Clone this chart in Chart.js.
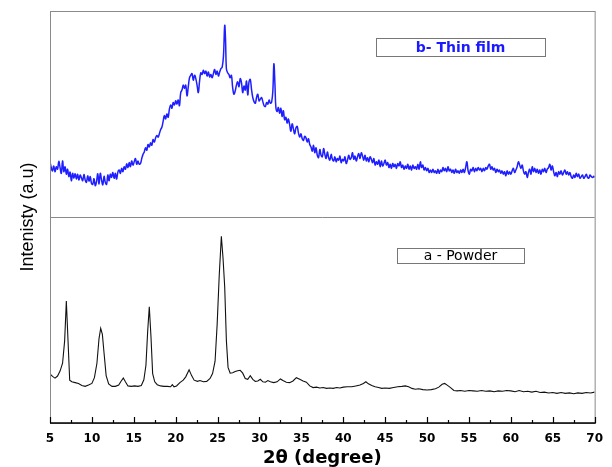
<!DOCTYPE html>
<html>
<head>
<meta charset="utf-8">
<script src="https://cdn.jsdelivr.net/npm/chart.js@4"></script>
<style>
  html, body { margin: 0; padding: 0; background: #fff; }
  canvas { display: block; }
</style>
</head>
<body>
<canvas id="xrdChart" width="612" height="467"></canvas>
<script>
// XRD patterns: thin film (offset up) and powder as [2theta, intensity]
const xTicks = [5, 10, 15, 20, 25, 30, 35, 40, 45, 50, 55, 60, 65, 70];
const dividerLevel = 50;
const seriesLabels = ['b- Thin film', 'a - Powder'];

const filmScan = [
  [5.0,63.4],[5.15,62.0],[5.3,61.2],[5.45,62.4],[5.6,61.0],[5.75,62.2],[5.9,61.6],[6.05,63.5],[6.2,62.0],[6.35,60.6],
  [6.5,63.6],[6.65,61.0],[6.8,62.2],[6.95,60.4],[7.1,61.6],[7.25,59.8],[7.4,60.9],[7.55,58.8],[7.7,60.6],[7.85,59.4],
  [8.0,60.5],[8.15,59.2],[8.3,60.4],[8.45,59.0],[8.6,60.2],[8.75,59.5],[8.9,58.8],[9.05,60.3],[9.2,59.0],[9.35,58.4],
  [9.5,60.0],[9.65,58.7],[9.8,59.8],[9.95,58.2],[10.1,57.9],[10.25,59.3],[10.4,57.6],[10.55,58.6],[10.7,60.5],[10.85,58.0],
  [11.0,60.6],[11.15,59.0],[11.3,57.8],[11.45,59.9],[11.6,58.4],[11.75,57.9],[11.9,60.2],[12.05,58.8],[12.2,60.4],[12.35,59.6],
  [12.5,60.8],[12.65,59.4],[12.8,60.6],[12.95,59.2],[13.1,60.9],[13.25,61.4],[13.4,60.6],[13.55,61.8],[13.7,61.0],[13.85,62.2],
  [14.0,61.6],[14.15,62.9],[14.3,62.0],[14.45,63.2],[14.6,62.2],[14.75,63.6],[14.9,62.6],[15.05,63.4],[15.2,64.2],[15.35,62.8],
  [15.5,63.6],[15.65,62.8],[15.8,63.0],[15.95,64.2],[16.1,65.2],[16.25,65.8],[16.4,66.8],[16.55,66.2],[16.7,67.6],[16.85,67.0],
  [17.0,68.0],[17.15,67.4],[17.3,68.8],[17.45,68.2],[17.6,69.2],[17.75,69.8],[17.9,69.4],[18.05,70.2],[18.2,71.2],[18.35,71.8],
  [18.5,73.2],[18.65,74.6],[18.8,73.8],[18.95,75.0],[19.1,74.2],[19.25,76.2],[19.4,77.2],[19.55,76.4],[19.7,77.8],[19.85,77.2],
  [20.0,78.2],[20.15,77.4],[20.3,78.4],[20.45,77.0],[20.6,80.2],[20.75,80.8],[20.9,82.0],[21.05,81.2],[21.2,82.0],[21.35,79.4],
  [21.5,81.6],[21.65,83.8],[21.8,84.4],[21.95,84.8],[22.1,83.2],[22.25,84.4],[22.4,83.6],[22.55,82.0],[22.7,80.2],[22.85,83.0],
  [23.0,85.0],[23.15,84.6],[23.3,85.6],[23.45,84.8],[23.6,85.4],[23.75,84.2],[23.9,85.2],[24.05,84.0],[24.2,84.6],[24.35,83.8],
  [24.5,84.8],[24.65,85.8],[24.8,84.6],[24.95,85.4],[25.1,84.2],[25.25,85.2],[25.4,86.0],[25.55,86.4],[25.7,89.0],[25.85,96.5],
  [25.95,93.0],[26.05,86.0],[26.2,85.0],[26.35,84.6],[26.5,83.8],[26.65,84.4],[26.8,81.4],[26.95,79.8],[27.1,80.6],[27.25,82.0],
  [27.4,82.8],[27.55,81.6],[27.7,83.6],[27.85,82.6],[28.0,80.2],[28.15,81.8],[28.3,80.8],[28.45,83.0],[28.6,79.6],[28.75,82.8],
  [28.9,83.4],[29.05,81.0],[29.2,79.0],[29.35,78.0],[29.5,77.6],[29.65,79.0],[29.8,79.8],[29.95,78.2],[30.1,78.6],[30.25,79.0],
  [30.4,78.0],[30.55,77.0],[30.7,76.8],[30.85,77.8],[31.0,77.4],[31.15,78.4],[31.3,77.6],[31.45,77.9],[31.6,80.8],[31.72,87.2],
  [31.85,82.0],[31.95,76.8],[32.1,75.6],[32.25,76.6],[32.4,75.2],[32.55,76.4],[32.7,74.4],[32.85,75.8],[33.0,73.6],[33.15,74.2],
  [33.3,72.8],[33.45,73.8],[33.6,72.4],[33.75,70.8],[33.9,72.6],[34.05,71.4],[34.2,70.2],[34.35,71.6],[34.5,72.0],[34.65,70.4],
  [34.8,69.4],[34.95,70.2],[35.1,69.0],[35.25,68.6],[35.4,69.6],[35.55,69.2],[35.7,68.2],[35.85,69.0],[36.0,67.6],[36.15,67.0],
  [36.3,66.0],[36.45,67.4],[36.6,65.6],[36.75,66.8],[36.9,65.0],[37.05,64.4],[37.2,66.4],[37.35,65.0],[37.5,64.6],[37.65,66.6],
  [37.8,65.2],[37.95,64.2],[38.1,65.8],[38.25,64.4],[38.4,63.8],[38.55,65.2],[38.7,64.0],[38.85,63.6],[39.0,64.6],[39.15,63.4],
  [39.3,64.2],[39.45,63.8],[39.6,64.8],[39.75,63.2],[39.9,64.0],[40.05,63.6],[40.2,64.6],[40.35,63.0],[40.5,63.8],[40.65,65.0],
  [40.8,64.0],[40.95,64.4],[41.1,65.6],[41.25,64.0],[41.4,64.8],[41.55,63.6],[41.7,64.6],[41.85,65.4],[42.0,64.2],[42.15,65.6],
  [42.3,64.8],[42.45,63.8],[42.6,65.0],[42.75,63.6],[42.9,64.4],[43.05,63.4],[43.2,64.6],[43.35,64.0],[43.5,63.2],[43.65,64.2],
  [43.8,62.6],[43.95,63.4],[44.1,62.8],[44.25,63.8],[44.4,62.2],[44.55,63.6],[44.7,62.4],[44.85,63.0],[45.0,63.8],[45.15,62.6],
  [45.3,63.2],[45.45,62.0],[45.6,62.8],[45.75,61.8],[45.9,63.0],[46.05,62.2],[46.2,62.8],[46.35,61.8],[46.5,63.0],[46.65,62.4],
  [46.8,63.4],[46.95,62.0],[47.1,62.6],[47.25,61.6],[47.4,62.4],[47.55,61.8],[47.7,62.8],[47.85,61.6],[48.0,62.4],[48.15,61.4],
  [48.3,62.6],[48.45,61.8],[48.6,62.2],[48.75,61.6],[48.9,62.8],[49.05,61.6],[49.2,63.4],[49.35,62.0],[49.5,62.6],[49.65,61.4],
  [49.8,62.0],[49.95,61.2],[50.1,61.8],[50.25,60.8],[50.4,61.4],[50.55,60.8],[50.7,61.6],[50.85,60.8],[51.0,61.2],[51.15,60.6],
  [51.3,61.6],[51.45,60.6],[51.6,61.4],[51.75,61.0],[51.9,62.0],[52.05,61.2],[52.2,61.8],[52.35,61.0],[52.5,62.2],[52.65,61.2],
  [52.8,61.6],[52.95,60.8],[53.1,61.4],[53.25,60.6],[53.4,61.6],[53.55,60.8],[53.7,61.2],[53.85,60.6],[54.0,61.4],[54.15,60.8],
  [54.3,61.6],[54.45,60.8],[54.6,62.0],[54.75,63.4],[54.9,61.2],[55.05,60.4],[55.2,61.6],[55.35,61.2],[55.5,62.0],[55.65,61.0],
  [55.8,61.8],[55.95,61.2],[56.1,62.0],[56.25,61.4],[56.4,61.8],[56.55,61.0],[56.7,61.8],[56.85,61.2],[57.0,62.0],[57.15,61.6],
  [57.3,62.4],[57.45,62.8],[57.6,61.6],[57.75,62.2],[57.9,61.4],[58.05,61.8],[58.2,60.8],[58.35,61.6],[58.5,61.0],[58.65,61.4],
  [58.8,60.6],[58.95,61.2],[59.1,60.4],[59.25,61.0],[59.4,60.0],[59.55,61.2],[59.7,60.4],[59.85,61.0],[60.0,60.4],[60.15,61.2],
  [60.3,61.8],[60.45,60.8],[60.6,61.4],[60.75,62.2],[60.9,63.4],[61.05,62.6],[61.2,61.8],[61.35,62.6],[61.5,61.2],[61.65,60.4],
  [61.8,61.0],[61.95,59.6],[62.1,60.8],[62.25,61.6],[62.4,60.4],[62.55,62.2],[62.7,61.0],[62.85,61.8],[63.0,60.8],[63.15,61.6],
  [63.3,60.6],[63.45,61.4],[63.6,60.4],[63.75,61.6],[63.9,61.0],[64.05,61.8],[64.2,60.8],[64.35,61.6],[64.5,62.0],[64.65,62.8],
  [64.8,61.4],[64.95,62.4],[65.1,61.0],[65.25,60.0],[65.4,60.8],[65.55,59.8],[65.7,61.0],[65.85,60.4],[66.0,61.2],[66.15,60.2],
  [66.3,60.8],[66.45,61.4],[66.6,60.4],[66.75,61.0],[66.9,60.2],[67.05,60.8],[67.2,59.8],[67.35,59.4],[67.5,60.2],[67.65,59.6],
  [67.8,60.6],[67.95,59.8],[68.1,60.4],[68.25,59.4],[68.4,59.8],[68.55,60.2],[68.7,59.4],[68.85,59.8],[69.0,60.4],[69.15,59.6],
  [69.3,59.4],[69.45,60.2],[69.6,59.8],[69.75,59.6],[69.9,59.9],[70.0,59.6]
];

const powderScan = [
  [5.0,11.9],[5.3,11.3],[5.6,10.9],[5.9,11.4],[6.2,12.6],[6.5,14.5],[6.75,20.0],[6.95,29.6],[7.15,20.0],[7.35,10.4],
  [7.6,10.0],[8.0,9.8],[8.4,9.6],[8.8,9.1],[9.2,8.9],[9.6,9.2],[10.0,9.6],[10.3,11.0],[10.6,14.5],[10.85,20.5],
  [11.05,23.0],[11.25,21.5],[11.45,17.0],[11.7,11.5],[12.0,9.5],[12.4,8.9],[12.8,8.9],[13.2,9.2],[13.5,10.2],[13.75,10.9],
  [14.0,10.0],[14.3,9.0],[14.7,8.9],[15.1,9.0],[15.5,8.9],[15.9,9.1],[16.2,10.5],[16.45,14.0],[16.65,22.0],[16.85,28.2],
  [17.05,21.0],[17.25,12.0],[17.5,10.0],[17.8,9.3],[18.2,9.0],[18.6,8.9],[19.0,8.9],[19.4,8.8],[19.6,9.3],[19.8,8.8],
  [20.1,9.0],[20.5,9.8],[20.9,10.4],[21.2,11.2],[21.6,12.9],[21.9,11.5],[22.2,10.4],[22.6,10.1],[22.9,10.3],[23.3,10.0],
  [23.7,10.1],[24.1,10.8],[24.4,12.0],[24.7,15.0],[24.95,24.0],[25.2,36.0],[25.45,45.3],[25.65,40.0],[25.85,33.0],[26.05,20.0],
  [26.25,13.5],[26.5,12.1],[26.8,12.2],[27.1,12.5],[27.4,12.7],[27.7,12.8],[28.0,12.1],[28.3,10.8],[28.6,10.6],[28.9,11.5],
  [29.2,10.6],[29.5,10.1],[29.8,10.2],[30.1,10.6],[30.4,10.0],[30.7,9.9],[31.0,10.3],[31.3,10.0],[31.7,9.8],[32.1,10.0],
  [32.5,10.7],[32.8,10.3],[33.2,9.9],[33.6,9.8],[34.0,10.2],[34.4,11.0],[34.8,10.6],[35.2,10.2],[35.6,9.9],[36.0,9.0],
  [36.4,8.6],[36.8,8.7],[37.2,8.5],[37.6,8.6],[38.0,8.4],[38.4,8.5],[38.8,8.4],[39.2,8.6],[39.6,8.5],[40.0,8.7],
  [40.5,8.8],[41.0,8.8],[41.5,9.0],[42.0,9.2],[42.4,9.6],[42.7,10.0],[43.0,9.5],[43.4,9.1],[43.8,8.8],[44.2,8.6],
  [44.6,8.4],[45.0,8.5],[45.5,8.4],[46.0,8.6],[46.5,8.8],[47.0,8.9],[47.4,9.0],[47.8,8.8],[48.2,8.4],[48.6,8.2],
  [49.0,8.3],[49.5,8.1],[50.0,8.0],[50.5,8.1],[51.0,8.3],[51.4,8.7],[51.8,9.4],[52.1,9.6],[52.4,9.2],[52.8,8.6],
  [53.2,7.9],[53.6,7.8],[54.0,7.9],[54.5,7.7],[55.0,7.9],[55.5,7.8],[56.0,7.7],[56.5,7.9],[57.0,7.7],[57.5,7.8],
  [58.0,7.6],[58.5,7.8],[59.0,7.7],[59.5,7.9],[60.0,7.8],[60.5,7.6],[61.0,7.9],[61.5,7.6],[62.0,7.7],[62.5,7.5],
  [63.0,7.7],[63.5,7.4],[64.0,7.5],[64.5,7.3],[65.0,7.4],[65.5,7.2],[66.0,7.4],[66.5,7.2],[67.0,7.3],[67.5,7.1],
  [68.0,7.3],[68.5,7.2],[69.0,7.4],[69.5,7.3],[70.0,7.5]
];

const toPoints = scan => scan.map(([t, i]) => ({ x: t, y: i }));

// frame, divider, inward ticks and the two label boxes
const framePlugin = {
  id: 'frame',
  beforeDraw(chart) {
    const ctx = chart.ctx;
    ctx.save();
    ctx.fillStyle = '#fff';
    ctx.fillRect(0, 0, chart.width, chart.height);
    ctx.restore();
  },
  afterDraw(chart) {
    const { ctx, chartArea: a, scales: { x, y } } = chart;
    ctx.save();
    ctx.lineWidth = 1;
    ctx.strokeStyle = '#8a8a8a';
    ctx.strokeRect(a.left + 0.5, a.top + 0.5, a.width, a.height);

    const yd = Math.round(y.getPixelForValue(dividerLevel)) + 0.5;
    ctx.beginPath();
    ctx.moveTo(a.left, yd);
    ctx.lineTo(a.right, yd);
    ctx.stroke();

    // bottom axis
    ctx.strokeStyle = '#000';
    ctx.lineWidth = 1.3;
    ctx.beginPath();
    ctx.moveTo(a.left, a.bottom);
    ctx.lineTo(a.right + 1, a.bottom);
    ctx.stroke();

    ctx.lineWidth = 1.2;
    xTicks.forEach((t, i) => {
      const px = Math.round(x.getPixelForValue(t)) + 0.5;
      ctx.beginPath();
      ctx.moveTo(px, a.bottom);
      ctx.lineTo(px, a.bottom - 6);
      ctx.stroke();
      if (i < xTicks.length - 1) {
        const pm = Math.round(x.getPixelForValue((t + xTicks[i + 1]) / 2)) + 0.5;
        ctx.beginPath();
        ctx.moveTo(pm, a.bottom);
        ctx.lineTo(pm, a.bottom - 3);
        ctx.stroke();
      }
    });

    // label boxes
    const boxes = [
      { text: seriesLabels[0], x0: 376, y0: 38, w: 169, h: 18, color: '#1a1aff', font: 'bold 14px "DejaVu Sans", sans-serif' },
      { text: seriesLabels[1], x0: 397, y0: 248, w: 127, h: 15, color: '#000', font: '14px "DejaVu Sans", sans-serif' }
    ];
    boxes.forEach(b => {
      ctx.lineWidth = 1;
      ctx.strokeStyle = '#777';
      ctx.strokeRect(b.x0 + 0.5, b.y0 + 0.5, b.w, b.h);
      ctx.fillStyle = b.color;
      ctx.font = b.font;
      ctx.textAlign = 'center';
      ctx.textBaseline = 'middle';
      ctx.fillText(b.text, b.x0 + b.w / 2, b.y0 + b.h / 2 + 1);
    });
    ctx.restore();
  }
};

const xrdCtx = document.getElementById('xrdChart').getContext('2d');
const xrdChart = new Chart(xrdCtx, {
  type: 'line',
  data: {
    datasets: [{
      label: seriesLabels[0],
      data: toPoints(filmScan),
      borderColor: '#1e1eff',
      borderWidth: 1.5,
      pointRadius: 0,
      tension: 0.4
    }, {
      label: seriesLabels[1],
      data: toPoints(powderScan),
      borderColor: '#111',
      borderWidth: 1.1,
      pointRadius: 0,
      tension: 0
    }]
  },
  options: {
    responsive: false,
    animation: false,
    devicePixelRatio: 1,
    layout: { padding: { top: 11, right: 16, left: 0, bottom: 0 } },
    plugins: { legend: { display: false }, tooltip: { enabled: false } },
    scales: {
      x: {
        type: 'linear',
        min: 5,
        max: 70,
        afterBuildTicks: scale => { scale.ticks = xTicks.map(v => ({ value: v })); },
        afterFit: scale => { scale.height = 44; },
        grid: { display: false, drawTicks: false },
        border: { display: false },
        ticks: {
          padding: 9,
          maxRotation: 0,
          color: '#000',
          font: { family: '"DejaVu Sans", sans-serif', size: 12, weight: 'bold' }
        },
        title: {
          display: true,
          text: '2θ (degree)',
          color: '#000',
          padding: { top: 0, bottom: 0 },
          font: { family: '"DejaVu Sans", sans-serif', size: 18, weight: 'bold', lineHeight: 1 }
        }
      },
      y: {
        min: 0,
        max: 100,
        afterFit: scale => { scale.width = 50; },
        grid: { display: false, drawTicks: false },
        border: { display: false },
        ticks: { display: false },
        title: {
          display: true,
          text: 'Intenisty (a.u)',
          color: '#000',
          padding: { top: 17, bottom: 0 },
          font: { family: '"Liberation Sans", sans-serif', size: 18 }
        }
      }
    }
  },
  plugins: [framePlugin]
});
</script>
</body>
</html>
